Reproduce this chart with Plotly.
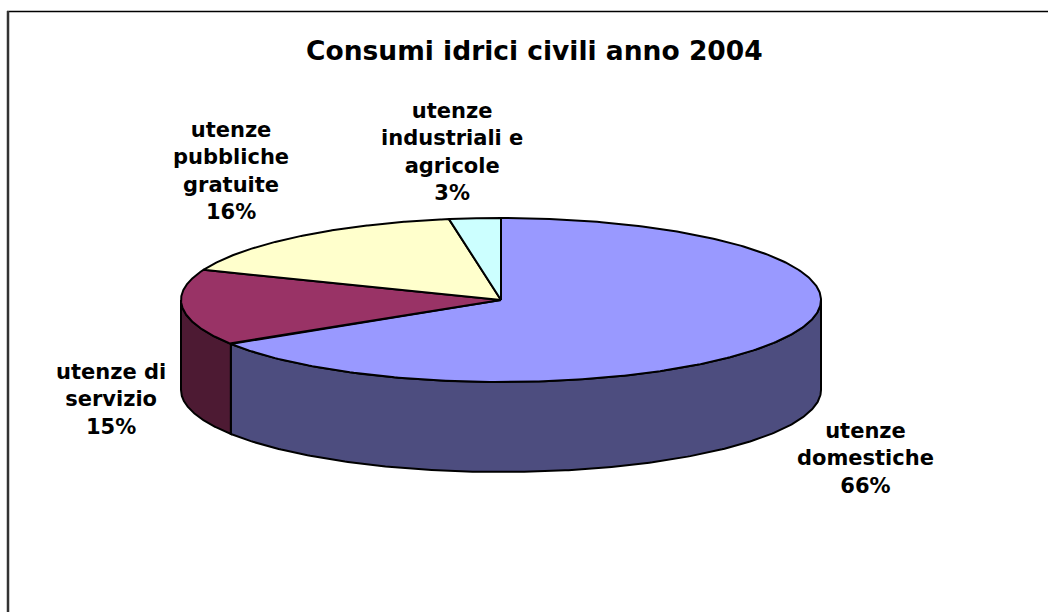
import numpy as np
import plotly.graph_objects as go

# ---- data ----
categories = ["utenze domestiche", "utenze di servizio",
              "utenze pubbliche gratuite", "utenze industriali e agricole"]
values = [66.0, 15.0, 16.4, 2.6]
label_lines = ["utenze<br>domestiche", "utenze di<br>servizio",
               "utenze<br>pubbliche<br>gratuite", "utenze<br>industriali e<br>agricole"]
title_text = "Consumi idrici civili anno 2004"

# ---- styles ----
top_colors = ["#9999FF", "#993366", "#FFFFCC", "#CCFFFF"]
side_colors = ["#4D4D7F", "#4D1A33", "#808066", "#668080"]
label_pos = [(865, 458), (111, 399), (231, 171), (452, 152)]
FONT = "DejaVu Sans"

W, H = 1048, 612
CX, CY, RX, RY, DEPTH = 501, 300, 320, 82, 90


def pt(theta_deg, dy=0.0):
    t = np.radians(theta_deg)
    return CX + RX * np.sin(t), CY - RY * np.cos(t) + dy


total = float(sum(values))
angles = np.concatenate([[0.0], np.cumsum(values) / total * 360.0])

fig = go.Figure()

# side walls (front half only)
for i in range(len(values)):
    a0, a1 = max(angles[i], 90.0), min(angles[i + 1], 270.0)
    if a1 <= a0:
        continue
    t = np.linspace(a0, a1, 240)
    xt, yt = pt(t)
    xb, yb = pt(t[::-1], DEPTH)
    xs = np.concatenate([xt, xb, [xt[0]]])
    ys = np.concatenate([yt, yb, [yt[0]]])
    fig.add_trace(go.Scatter(x=xs, y=ys, mode="lines", fill="toself",
                             fillcolor=side_colors[i],
                             line=dict(color="black", width=2),
                             hoverinfo="skip", showlegend=False))

# top slices
for i in range(len(values)):
    t = np.linspace(angles[i], angles[i + 1], 300)
    xa, ya = pt(t)
    xs = np.concatenate([[CX], xa, [CX]])
    ys = np.concatenate([[CY], ya, [CY]])
    fig.add_trace(go.Scatter(x=xs, y=ys, mode="lines", fill="toself",
                             fillcolor=top_colors[i],
                             line=dict(color="black", width=2),
                             hoverinfo="skip", showlegend=False,
                             name=categories[i]))

annotations = []
for i, (x, y) in enumerate(label_pos):
    pct = int(round(values[i] / total * 100))
    annotations.append(dict(x=x, y=y, xref="x", yref="y", showarrow=False,
                            text=f"{label_lines[i]}<br>{pct}%",
                            align="center", xanchor="center", yanchor="middle",
                            font=dict(family=FONT, size=21, color="black", weight="bold")))
annotations.append(dict(x=534, y=50, xref="x", yref="y", showarrow=False,
                        text=title_text, xanchor="center", yanchor="middle",
                        font=dict(family=FONT, size=26.5, color="black", weight="bold")))

shapes = [
    dict(type="line", xref="x", yref="y", x0=7, y0=11.5, x1=W, y1=11.5,
         line=dict(color="black", width=1.5)),
    dict(type="line", xref="x", yref="y", x0=8, y0=11, x1=8, y1=H,
         line=dict(color="#333333", width=2.5)),
]

fig.update_layout(
    width=W, height=H,
    margin=dict(l=0, r=0, t=0, b=0),
    paper_bgcolor="white", plot_bgcolor="white",
    xaxis=dict(range=[0, W], visible=False, fixedrange=True),
    yaxis=dict(range=[H, 0], visible=False, fixedrange=True),
    annotations=annotations, shapes=shapes, showlegend=False,
)

fig.write_html(
    "out.html",
    config={"displayModeBar": False},
    post_script="document.body.style.margin='0';document.body.style.overflow='hidden';",
)
